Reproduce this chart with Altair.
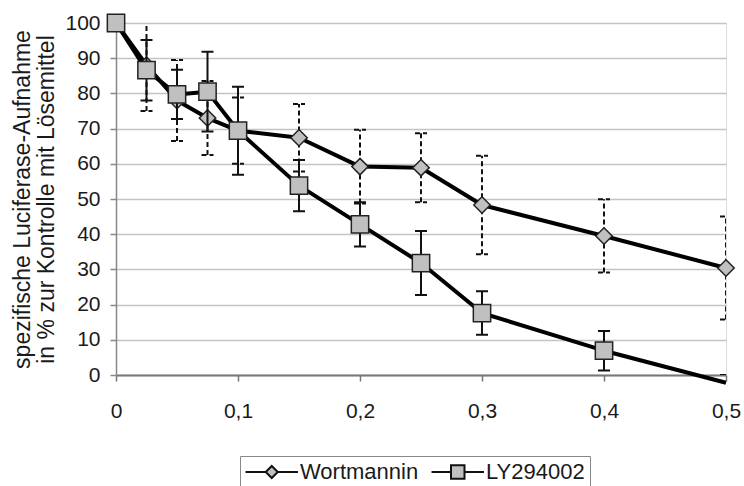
import altair as alt
import pandas as pd

# ---- data ----
conc = [0, 0.025, 0.05, 0.075, 0.1, 0.15, 0.2, 0.25, 0.3, 0.4, 0.5]
series = ["Wortmannin", "LY294002"]
wort = [100, 88, 78, 73, 69.4, 67.4, 59.2, 58.9, 48.3, 39.5, 30.4]
wort_err = [0, 13, 11.5, 10.5, 9.4, 9.6, 10.5, 9.8, 14, 10.4, 14.6]
ly = [100, 86.6, 79.7, 80.5, 69.4, 53.8, 42.8, 31.8, 17.6, 6.9, -2.2]
ly_err = [0, 8.6, 7, 11.3, 12.5, 7.3, 6.3, 9.1, 6.2, 5.6, 2.2]
x_ticks = [0, 0.1, 0.2, 0.3, 0.4, 0.5]
y_ticks = [0, 10, 20, 30, 40, 50, 60, 70, 80, 90, 100]
x_title = "mM Inhibitor"
y_title = ["spezifische Luciferase-Aufnahme", "in % zur Kontrolle mit Lösemittel"]

rows = []
for name, vals, errs in ((series[0], wort, wort_err), (series[1], ly, ly_err)):
    for c, v, e in zip(conc, vals, errs):
        rows.append({"series": name, "x": c, "y": v, "lo": v - e, "hi": v + e})
df = pd.DataFrame(rows)

FONT = "Liberation Sans"
TXT = "#1a1a1a"

x_scale = alt.Scale(domain=[0, 0.5], nice=False, zero=False)
y_scale = alt.Scale(domain=[0, 100], nice=False)

x_axis = alt.Axis(
    values=x_ticks, grid=False, title=x_title,
    labelExpr="datum.value == 0 ? '0' : replace(format(datum.value, '.1f'), '.', ',')",
    tickSize=6, tickColor="#777", tickWidth=1.5, domainColor="#777", domainWidth=2,
    labelFont=FONT, labelFontSize=21, labelColor=TXT, labelPadding=19, labelFlush=False,
    titleFont=FONT, titleFontSize=21, titleFontWeight="normal", titleColor=TXT,
    titleBaseline="alphabetic", titleY=422,
)
y_axis = alt.Axis(
    values=y_ticks, grid=True, gridColor="#c4c4c4", gridWidth=1.5, title=y_title,
    tickSize=6, tickColor="#888", tickWidth=1.5, domainColor="#888", domainWidth=1.5,
    labelFont=FONT, labelFontSize=21, labelColor=TXT, labelPadding=10,
    titleFont=FONT, titleFontSize=23, titleFontWeight="normal", titleColor=TXT,
    titleLineHeight=24, titleAngle=-90, titleAlign="center", titleBaseline="middle",
    titleX=-94, titleY=176,
)

X = alt.X("x:Q", scale=x_scale, axis=x_axis)
Y = alt.Y("y:Q", scale=y_scale, axis=y_axis)

layers = []
styles = {
    "Wortmannin": dict(dash=[5, 3], shape="diamond", size=270),
    "LY294002": dict(dash=[1, 0], shape="square", size=300),
}
for s in series:
    st = styles[s]
    base = alt.Chart(df).transform_filter(alt.datum.series == s)
    bars = base.mark_rule(color="#111", strokeWidth=2, strokeDash=st["dash"], clip=True).encode(
        x=X, y=alt.Y("lo:Q", scale=y_scale, axis=y_axis), y2="hi:Q"
    )
    cap_hi = base.mark_rule(color="#111", strokeWidth=2, strokeDash=st["dash"], xOffset=-6, x2Offset=6, clip=True).encode(
        x=X, x2=alt.X2("x:Q"), y=alt.Y("hi:Q", scale=y_scale, axis=y_axis)
    )
    cap_lo = base.mark_rule(color="#111", strokeWidth=2, strokeDash=st["dash"], xOffset=-6, x2Offset=6, clip=True).encode(
        x=X, x2=alt.X2("x:Q"), y=alt.Y("lo:Q", scale=y_scale, axis=y_axis)
    )
    line = base.mark_line(color="#000", strokeWidth=4, interpolate="linear", strokeJoin="round", clip=False).encode(x=X, y=Y)
    pts = base.transform_filter(alt.datum.y >= 0).mark_point(
        shape=st["shape"], size=st["size"], filled=True, fill="#c0c0c0",
        stroke="#222", strokeWidth=1.5, opacity=1
    ).encode(x=X, y=Y)
    layers += [bars, cap_hi, cap_lo, line, pts]

# legend symbols: line with the marker in its middle (units of 7.5 px)
path_w = "M-1.4,0L1.3,0M2.9,0L5.6,0M1.3,0L2.1,-0.8L2.9,0L2.1,0.8Z"
path_ly = "M-1.4,0L1.2,0M3.0,0L5.6,0M1.2,-0.9L3.0,-0.9L3.0,0.9L1.2,0.9Z"

leg = alt.Legend(
    title=None, orient="none", legendX=124, legendY=433, direction="horizontal",
    symbolSize=225, symbolFillColor="#c0c0c0", symbolStrokeColor="#111",
    symbolStrokeWidth=2, symbolOpacity=1,
    labelFont=FONT, labelFontSize=22, labelColor=TXT, labelOffset=33,
    columnPadding=8, padding=5, strokeColor="#888", fillColor="white",
)

legend_layer = alt.Chart(df).transform_filter("datum.x < -1").mark_point(
    filled=True, fill="#c0c0c0", strokeWidth=2, opacity=1
).encode(
    shape=alt.Shape("series:N", scale=alt.Scale(domain=series, range=[path_w, path_ly]), legend=leg),
    stroke=alt.Stroke("series:N", scale=alt.Scale(domain=series, range=["#111", "#111"]), legend=leg),
)
layers.append(legend_layer)

chart = alt.layer(*layers).properties(
    width=610, height=352,
    autosize=alt.AutoSizeParams(type="none"),
    padding={"left": 116, "top": 23, "right": 18, "bottom": 111},
).configure_view(stroke="#999", strokeWidth=2).configure(background="white")

chart.save("out.html", embed_options={"renderer": "svg", "actions": False})
